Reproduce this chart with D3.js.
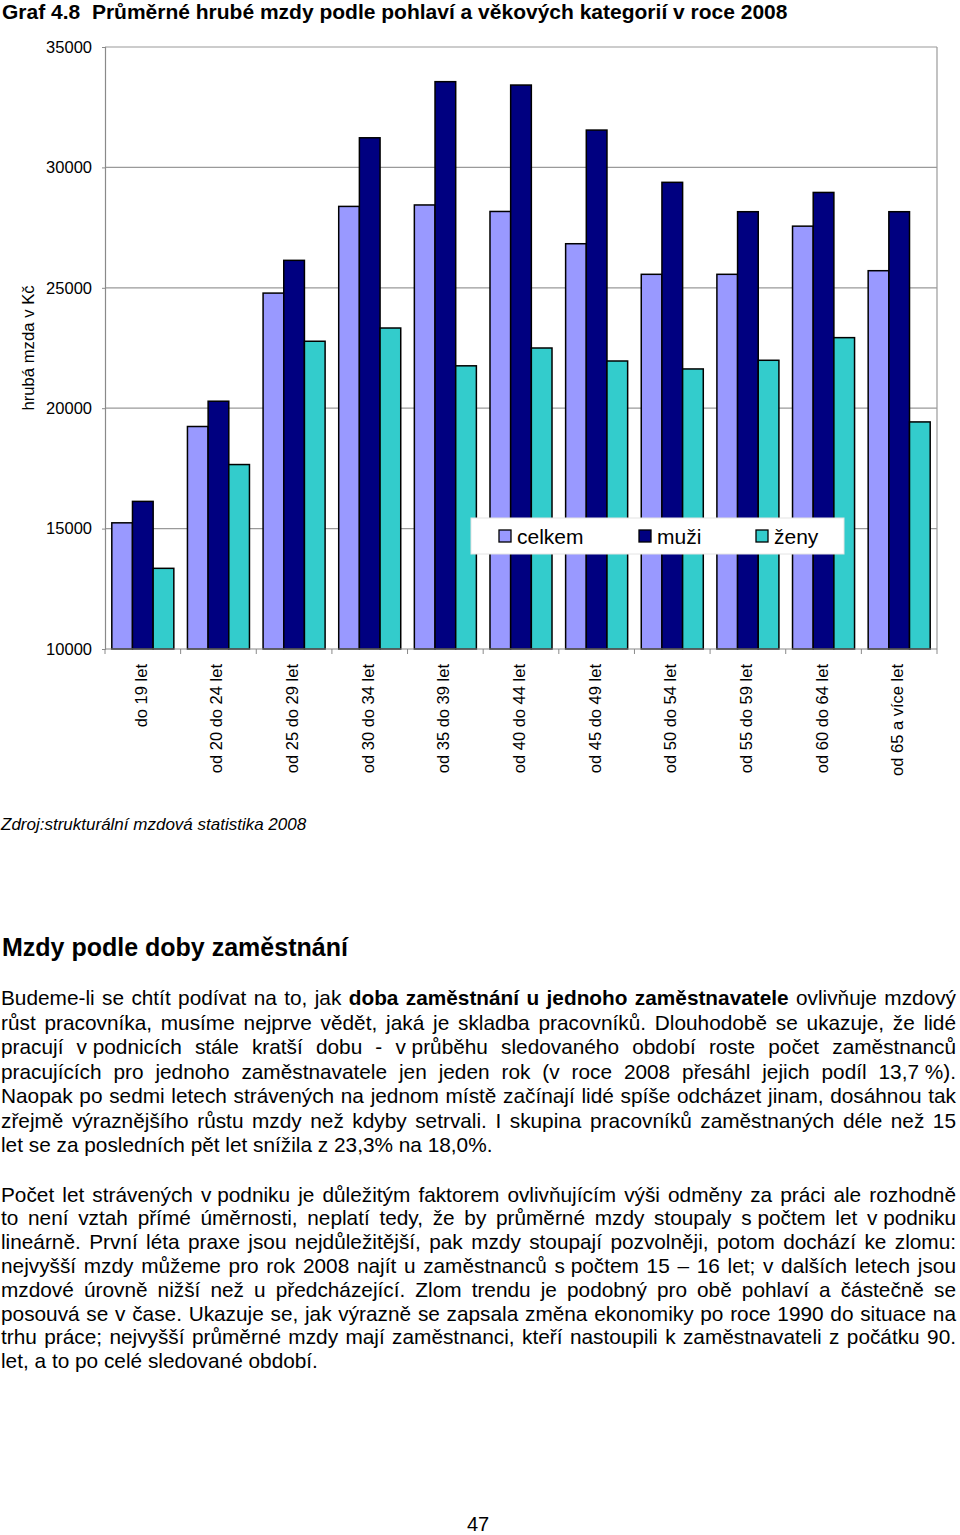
<!DOCTYPE html>
<html>
<head>
<meta charset="utf-8">
<script src="https://cdn.jsdelivr.net/npm/d3@7"></script>
<style>
  body { margin: 0; background: #fff; }
  svg { display: block; font-family: "Liberation Sans", Arial, sans-serif; }
</style>
</head>
<body>
<div id="chart"></div>
<script>
// data (Kč)
var categories = ["do 19 let", "od 20 do 24 let", "od 25 do 29 let", "od 30 do 34 let", "od 35 do 39 let",
  "od 40 do 44 let", "od 45 do 49 let", "od 50 do 54 let", "od 55 do 59 let", "od 60 do 64 let", "od 65 a více let"];
var celkem = [15240, 19240, 24780, 28380, 28440, 28170, 26830, 25560, 25560, 27560, 25710];
var muzi   = [16130, 20290, 26140, 31230, 33560, 33420, 31550, 29380, 28160, 28960, 28160];
var zeny   = [13350, 17660, 22780, 23330, 21760, 22500, 21960, 21630, 21990, 22930, 19430];
var seriesNames = ["celkem", "muži", "ženy"];
var seriesColors = ["#9999FF", "#000080", "#33CCCC"];
var yTicks = [10000, 15000, 20000, 25000, 30000, 35000];

var title = "Graf 4.8  Průměrné hrubé mzdy podle pohlaví a věkových kategorií v roce 2008";
var yTitle = "hrubá mzda v Kč";
var source = "Zdroj:strukturální mzdová statistika 2008";
var heading = "Mzdy podle doby zaměstnání";

// text lines: [text, bold] segments per line
var para1 = [
  [["Budeme-li se chtít podívat na to, jak", false], ["doba zaměstnání u jednoho zaměstnavatele", true], ["ovlivňuje mzdový", false]],
  [["růst pracovníka, musíme nejprve vědět, jaká je skladba pracovníků. Dlouhodobě se ukazuje, že lidé", false]],
  [["pracují v\u00a0podnicích stále kratší dobu - v\u00a0průběhu sledovaného období roste počet zaměstnanců", false]],
  [["pracujících pro jednoho zaměstnavatele jen jeden rok (v roce 2008 přesáhl jejich podíl 13,7\u00a0%).", false]],
  [["Naopak po sedmi letech strávených na jednom místě začínají lidé spíše odcházet jinam, dosáhnou tak", false]],
  [["zřejmě výraznějšího růstu mzdy než kdyby setrvali. I skupina pracovníků zaměstnaných déle než 15", false]],
  [["let se za posledních pět let snížila z 23,3% na 18,0%.", false]]
];
var para2 = [
  [["Počet let strávených v\u00a0podniku je důležitým faktorem ovlivňujícím výši odměny za práci ale rozhodně", false]],
  [["to není vztah přímé úměrnosti, neplatí tedy, že by průměrné mzdy stoupaly s\u00a0počtem let v\u00a0podniku", false]],
  [["lineárně. První léta praxe jsou nejdůležitější, pak mzdy stoupají pozvolněji, potom dochází ke zlomu:", false]],
  [["nejvyšší mzdy můžeme pro rok 2008 najít u zaměstnanců s\u00a0počtem 15 – 16 let; v dalších letech jsou", false]],
  [["mzdové úrovně nižší než u předcházející. Zlom trendu je podobný pro obě pohlaví a částečně se", false]],
  [["posouvá se v čase. Ukazuje se, jak výrazně se zapsala změna ekonomiky po roce 1990 do situace na", false]],
  [["trhu práce; nejvyšší průměrné mzdy mají zaměstnanci, kteří nastoupili k zaměstnavateli z počátku 90.", false]],
  [["let, a to po celé sledované období.", false]]
];
var pageNumber = "47";

var w = 960, h = 1535;
var plot = { left: 105, right: 937, top: 47, bottom: 649 };

var svg = d3.select("#chart").append("svg")
  .attr("width", w)
  .attr("height", h);

// title
svg.append("text")
  .attr("x", 2).attr("y", 19)
  .attr("font-size", 21).attr("font-weight", "bold")
  .attr("xml:space", "preserve")
  .text(title);

// scales
var x0 = d3.scaleBand()
  .domain(categories)
  .range([plot.left, plot.right])
  .paddingInner(0.18)
  .paddingOuter(0.09);

var x1 = d3.scaleBand()
  .domain(seriesNames)
  .range([0, x0.bandwidth()]);

var y = d3.scaleLinear()
  .domain([10000, 35000])
  .range([plot.bottom, plot.top]);

var color = d3.scaleOrdinal().domain(seriesNames).range(seriesColors);

// gridlines
svg.append("g")
  .selectAll("line")
  .data(yTicks.slice(1))
  .join("line")
  .attr("x1", plot.left).attr("x2", plot.right)
  .attr("y1", d => y(d)).attr("y2", d => y(d))
  .attr("stroke", "#9a9a9a").attr("stroke-width", 1.2);

// right border
svg.append("line")
  .attr("x1", plot.right).attr("x2", plot.right)
  .attr("y1", plot.top).attr("y2", plot.bottom)
  .attr("stroke", "#9a9a9a").attr("stroke-width", 1.2);

// bars
var table = categories.map((c, i) => ({ cat: c, values: [celkem[i], muzi[i], zeny[i]] }));

svg.append("g")
  .selectAll("g")
  .data(table)
  .join("g")
  .attr("transform", d => "translate(" + x0(d.cat) + ",0)")
  .selectAll("rect")
  .data(d => d.values.map((v, j) => ({ key: seriesNames[j], value: v })))
  .join("rect")
  .attr("x", d => x1(d.key))
  .attr("y", d => y(d.value))
  .attr("width", x1.bandwidth())
  .attr("height", d => y(10000) - y(d.value))
  .attr("fill", d => color(d.key))
  .attr("stroke", "#000")
  .attr("stroke-width", 1.5);

// y axis
var yAxis = d3.axisLeft(y).tickValues(yTicks).tickSize(3).tickPadding(10).tickFormat(d3.format("d"));
var gy = svg.append("g")
  .attr("transform", "translate(" + plot.left + ",0)")
  .call(yAxis);
gy.select(".domain").attr("stroke", "#8a8a8a").attr("stroke-width", 1.2);
gy.selectAll(".tick line").attr("stroke", "#8a8a8a");
gy.selectAll("text").attr("font-size", 16.5).attr("fill", "#000").attr("font-family", "Liberation Sans, Arial, sans-serif");

// x axis
var boundaries = d3.range(categories.length + 1).map(i => plot.left + i * x0.step());
svg.append("line")
  .attr("x1", plot.left).attr("x2", plot.right)
  .attr("y1", plot.bottom).attr("y2", plot.bottom)
  .attr("stroke", "#8a8a8a").attr("stroke-width", 1.2);
svg.append("g")
  .selectAll("line")
  .data(boundaries)
  .join("line")
  .attr("x1", d => d).attr("x2", d => d)
  .attr("y1", plot.bottom).attr("y2", plot.bottom + 5)
  .attr("stroke", "#8a8a8a");

svg.append("g")
  .selectAll("text")
  .data(categories)
  .join("text")
  .attr("transform", d => "translate(" + (x0(d) + x0.bandwidth() / 2 + 4) + "," + (plot.bottom + 15) + ") rotate(-90)")
  .attr("text-anchor", "end")
  .attr("font-size", 16.5)
  .text(d => d);

// y title
svg.append("text")
  .attr("transform", "translate(34,348) rotate(-90)")
  .attr("text-anchor", "middle")
  .attr("font-size", 16.7)
  .text(yTitle);

// legend
var legend = svg.append("g").attr("transform", "translate(471,518)");
legend.append("rect")
  .attr("width", 373).attr("height", 36)
  .attr("fill", "#fff").attr("stroke", "#e4e4e4");
var legendX = [28, 168, 285];
seriesNames.forEach(function (s, i) {
  legend.append("rect")
    .attr("x", legendX[i]).attr("y", 12)
    .attr("width", 12).attr("height", 12)
    .attr("fill", color(s)).attr("stroke", "#000").attr("stroke-width", 1.3);
  legend.append("text")
    .attr("x", legendX[i] + 18).attr("y", 26)
    .attr("font-size", 21)
    .text(s);
});

// source
svg.append("text")
  .attr("x", 1).attr("y", 830)
  .attr("font-size", 17).attr("font-style", "italic")
  .text(source);

// heading
svg.append("text")
  .attr("x", 2).attr("y", 956)
  .attr("font-size", 25).attr("font-weight", "bold")
  .text(heading);

// justified body text
var fontSize = 20.8, textLeft = 1, textRight = 956;
function drawLine(segments, yy, justify) {
  var words = [];
  segments.forEach(function (s) {
    s[0].split(" ").forEach(function (t) { words.push({ t: t, b: s[1] }); });
  });
  var g = svg.append("g");
  var nodes = words.map(function (wd) {
    return g.append("text")
      .attr("y", yy)
      .attr("font-size", fontSize)
      .attr("font-weight", wd.b ? "bold" : "normal")
      .text(wd.t);
  });
  var widths = nodes.map(n => n.node().getComputedTextLength());
  var total = d3.sum(widths);
  var gap = justify ? (textRight - textLeft - total) / (words.length - 1) : fontSize * 0.278;
  var xx = textLeft;
  nodes.forEach(function (n, i) {
    n.attr("x", xx);
    xx += widths[i] + gap;
  });
}
para1.forEach(function (line, i) {
  drawLine(line, 1005 + i * 24.5, i < para1.length - 1);
});
para2.forEach(function (line, i) {
  drawLine(line, 1201.5 + i * 23.8, i < para2.length - 1);
});

// page number
svg.append("text")
  .attr("x", 478).attr("y", 1531)
  .attr("text-anchor", "middle")
  .attr("font-size", 20)
  .text(pageNumber);
</script>
</body>
</html>
